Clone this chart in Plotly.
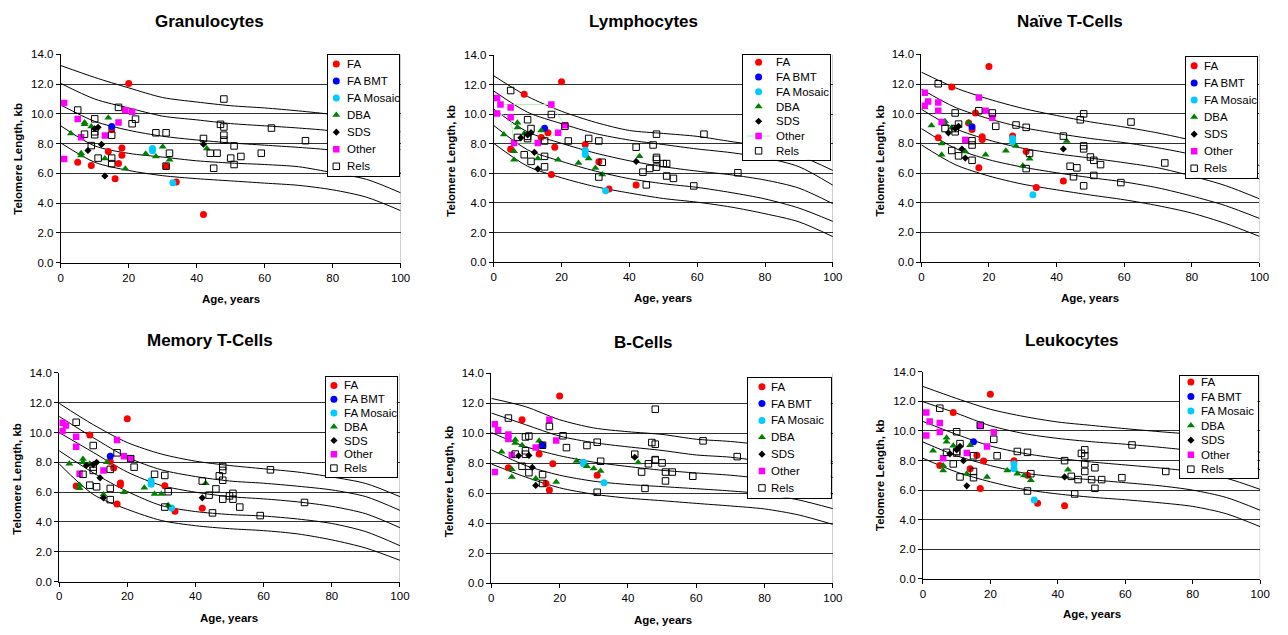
import plotly.graph_objects as go

W, H = 1288, 635
FONT = "Liberation Sans, Arial, sans-serif"

PANELS = ["Granulocytes", "Lymphocytes", "Naïve T-Cells", "Memory T-Cells", "B-Cells", "Leukocytes"]
SERIES_NAMES = ["FA", "FA BMT", "FA Mosaic", "DBA", "SDS", "Other", "Rels"]

# ---------------- ages ----------------
FA_AGES = [5, 9, 14, 15, 16, 17, 18, 18, 20, 27, 31, 34, 42]
BMT_AGES = [15]
MOSAIC_AGES = [27, 27, 33]
DBA_AGES = [3, 6, 6, 7, 7, 9, 13, 14, 19, 25, 28, 30, 32, 43]
SDS_AGES = [8, 10, 11, 12, 13, 42]
OTHER_AGES = [1, 1, 2, 5, 5, 6, 13, 17, 19, 21]
RELS_AGES = [5, 7, 9, 10, 10, 10, 11, 11, 15, 15, 15, 17, 21, 22, 28, 31, 31, 32, 42, 44, 45,
             46, 47, 48, 48, 48, 48, 50, 51, 51, 53, 59, 62, 72]
CURVE_AGES = [0, 10, 20, 30, 40, 50, 60, 70, 80, 90, 100]

# ---------------- telomere length, kb ----------------
GRAN_FA = [6.75, 6.53, 7.47, 8.95, 5.65, 6.66, 7.71, 7.23, 12.05, None, 6.49, 5.43, 3.25]
LYMPH_FA = [7.63, 11.35, 8.43, None, 8.75, 5.93, 7.76, None, 12.2, 7.95, 6.78, 4.95, 5.22]
NAIVE_FA = [8.38, 11.8, 9.37, 8.93, 10.05, 6.35, 8.45, 8.27, 13.18, 8.49, 7.45, 5.03, 5.47]
MEM_FA = [6.42, 9.83, None, 8.05, 7.63, 5.2, 6.62, 6.5, 10.93, None, 6.43, 4.72, 4.93]
BCELL_FA = [7.7, 10.9, 8.61, None, 6.65, 6.21, 7.97, None, 12.48, None, 7.2, None, None]
LEUK_FA = [7.66, 11.24, 7.44, None, 8.35, 6.11, 7.97, None, 12.47, 7.99, 7.0, 5.12, 4.95]

GRAN_BMT = [9.15]
LYMPH_BMT = [9.05]
NAIVE_BMT = [9.12]
MEM_BMT = [8.41]
BCELL_BMT = [9.2]
LEUK_BMT = [9.27]

GRAN_MOS = [7.67, 7.52, 5.38]
LYMPH_MOS = [7.57, 7.28, 4.82]
NAIVE_MOS = [8.33, 8.11, 4.54]
MEM_MOS = [6.76, 6.54, 4.94]
BCELL_MOS = [8.07, 7.96, 6.69]
LEUK_MOS = [7.77, 7.44, 5.34]

GRAN_DBA = [8.68, 7.36, 7.2, 9.43, 9.3, 9.16, 7.01, 9.74, 6.31, 7.32, 7.14, 7.8, 6.92, 7.67]
LYMPH_DBA = [8.63, 7.5, 6.92, 9.42, 9.1, 8.7, 7.0, 8.9, 6.92, 6.7, 7.0, 6.37, 5.93, 7.15]
NAIVE_DBA = [9.2, 8.0, 7.23, 9.5, 9.3, 9.06, 7.45, 9.4, 7.23, 7.5, 7.83, 6.5, 6.97, 8.16]
MEM_DBA = [7.9, 6.48, 6.26, 8.23, 8.0, 7.9, 5.85, 8.0, 5.99, 6.3, 5.88, 5.88, 5.12, 6.6]
BCELL_DBA = [8.77, 7.6, 7.08, 9.56, 9.35, 9.2, 6.98, 9.5, 6.74, 8.15, 7.8, 7.65, 7.48, 8.04]
LEUK_DBA = [8.66, 7.66, 7.33, 9.54, 9.27, 8.99, 7.11, 9.03, 6.89, 7.33, 7.11, 6.98, 6.67, 7.37]

GRAN_SDS = [7.54, 9.0, 9.1, 7.95, 5.83, 7.96]
LYMPH_SDS = [8.4, 8.6, 8.75, 7.42, 6.3, 6.81]
NAIVE_SDS = [8.71, 9.0, 9.15, 7.62, 7.01, 7.62]
MEM_SDS = [7.8, 7.85, 8.01, 6.96, 5.62, 5.62]
BCELL_SDS = [8.5, None, 8.52, 7.72, 6.52, 8.4]
LEUK_SDS = [8.45, 8.72, 8.95, 7.99, 6.29, 6.89]

GRAN_OTHER = [10.73, 6.97, None, 9.65, None, 8.44, 8.55, 9.42, 10.24, 10.14]
LYMPH_OTHER = [11.1, 10.05, 10.65, 10.45, 9.8, 8.05, 8.05, 10.65, 8.75, 9.25]
NAIVE_OTHER = [11.42, 10.54, 10.83, 10.76, 10.2, 9.44, 8.22, 11.09, 10.2, 9.72]
MEM_OTHER = [10.65, 10.1, 10.47, 9.72, 9.05, 7.24, 7.46, 9.5, 8.41, 8.23]
BCELL_OTHER = [10.6, 7.41, 10.22, 9.92, 9.62, 8.55, 9.05, 10.9, 9.52, None]
LEUK_OTHER = [11.24, 9.69, 10.64, 10.53, 9.93, 8.15, 8.5, 10.33, 8.94, 9.91]
LYMPH_OTHER_PATH = [0, 2, 7, 9, 8, 6, 5, 4, 1]   # order of the faint connector in Lymphocytes

GRAN_RELS = [10.26, 8.64, 7.87, 9.67, 8.8, 8.6, 7.03, None, 8.57, 7.03, 6.66, 10.44, 9.34, 9.65,
             8.73, 8.73, 6.49, 7.36, 8.35, 7.36, 6.35, 7.36, 9.3, 11.0, 9.12, 8.57, 8.24, 7.03,
             7.85, 6.6, 7.14, 7.36, 9.05, 8.2]
LYMPH_RELS = [11.6, 8.43, 7.26, 9.63, 8.5, 8.35, 9.03, 6.81, 8.19, 7.15, 6.44, 9.98, 9.18, 8.19,
              8.36, 8.19, 5.75, 6.75, 7.77, 6.08, 5.22, 6.33, 7.92, 8.65, 7.08, 6.95, 6.42, 6.66,
              6.66, 5.82, 5.66, 5.15, 8.65, 6.04]
NAIVE_RELS = [12.02, 9.0, 7.52, 10.05, 9.0, 8.78, 9.3, 7.16, 8.18, 7.89, 6.86, 10.2, 10.05, 9.15,
              9.24, 9.08, 6.3, 7.32, 8.49, 6.46, 5.75, 6.35, 9.59, 9.99, 7.83, 7.63, 5.14, 7.08,
              6.86, 5.84, 6.57, 5.36, 9.44, 6.68]
MEM_RELS = [10.69, 7.2, 6.47, 9.13, 7.46, 7.68, 6.36, None, 7.53, 6.25, 5.5, 8.64, 8.25, 7.68,
            7.2, 7.12, 5.0, 6.03, 6.75, 5.8, 4.61, 6.22, 7.1, 7.72, 7.46, 6.8, 5.53, 5.75,
            5.92, 5.53, 5.0, 4.43, 7.5, 5.31]
BCELL_RELS = [11.01, 8.61, 7.8, 9.75, 8.83, 8.6, 9.81, 7.37, 9.2, 7.24, 6.65, 10.45, 9.83, 9.04,
              9.18, 9.4, 6.06, 8.13, 8.6, 7.41, 6.32, 7.96, 9.38, 11.6, 9.27, 8.24, 8.2, 8.02,
              7.41, 6.82, 7.41, 7.13, 9.49, 8.44]
LEUK_RELS = [11.53, 8.55, 7.77, 9.94, 8.61, 8.5, 9.14, 6.89, 8.32, 7.26, 6.84, 10.38, 9.43, 8.32,
             8.61, 8.55, 5.94, 7.11, 7.99, 6.93, 5.74, 6.71, 8.48, 8.72, 8.32, 7.77, 7.26, 6.71,
             7.51, 6.12, 6.71, 6.84, 9.05, 7.26]

# ---------------- percentile curves (values at CURVE_AGES) ----------------
GRAN_CURVES = [
    [13.25, 12.45, 11.75, 11.1, 10.8, 10.55, 10.4, 10.2, 9.95, 9.5, 8.8],
    [12.05, 11.0, 10.4, 9.85, 9.6, 9.35, 9.2, 9.05, 8.85, 8.4, 7.6],
    [10.6, 9.5, 8.9, 8.5, 8.25, 8.05, 7.9, 7.75, 7.55, 7.05, 6.05],
    [9.2, 7.85, 7.35, 7.1, 6.85, 6.7, 6.6, 6.45, 6.05, 5.6, 4.7],
    [8.05, 6.75, 6.2, 5.85, 5.65, 5.5, 5.35, 5.2, 4.9, 4.4, 3.5],
]
LYMPH_CURVES = [
    [12.6, 11.2, 10.2, 9.45, 8.9, 8.7, 8.5, 8.15, 7.8, 7.2, 6.2],
    [11.57, 10.13, 9.36, 8.69, 8.25, 7.95, 7.65, 7.4, 7.05, 6.45, 5.2],
    [10.35, 8.8, 8.03, 7.37, 6.85, 6.45, 6.15, 5.9, 5.55, 5.0, 3.95],
    [9.24, 7.59, 6.81, 6.15, 5.64, 5.3, 5.05, 4.7, 4.27, 3.65, 2.75],
    [8.03, 6.48, 5.7, 5.1, 4.67, 4.3, 4.05, 3.72, 3.27, 2.72, 1.72],
]
NAIVE_CURVES = [
    [12.8, 11.75, 10.98, 10.36, 9.88, 9.45, 9.1, 8.7, 8.2, 7.5, 6.5],
    [11.65, 10.43, 9.66, 9.07, 8.67, 8.33, 8.05, 7.7, 7.25, 6.6, 5.6],
    [10.3, 9.0, 8.22, 7.67, 7.3, 7.01, 6.7, 6.35, 5.8, 5.15, 4.26],
    [9.0, 7.67, 6.9, 6.4, 6.02, 5.69, 5.4, 5.0, 4.45, 3.8, 2.94],
    [7.9, 6.57, 5.8, 5.25, 4.87, 4.52, 4.2, 3.8, 3.3, 2.6, 1.73],
]
MEM_CURVES = [
    [11.96, 10.53, 9.33, 8.56, 8.08, 7.79, 7.57, 7.35, 7.02, 6.58, 5.7],
    [11.08, 9.66, 8.34, 7.5, 7.05, 6.75, 6.6, 6.4, 6.15, 5.7, 4.78],
    [10.0, 8.67, 7.35, 6.45, 6.0, 5.7, 5.55, 5.35, 5.05, 4.55, 3.62],
    [8.78, 7.3, 6.05, 5.1, 4.7, 4.5, 4.4, 4.2, 3.9, 3.35, 2.41],
    [7.9, 5.85, 4.85, 4.1, 3.75, 3.55, 3.42, 3.2, 2.8, 2.25, 1.43],
]
BCELL_CURVES = [
    [12.32, 11.77, 10.9, 10.35, 10.1, 9.92, 9.6, 9.45, 9.2, 8.8, 8.1],
    [11.35, 10.57, 9.81, 9.37, 9.09, 8.85, 8.55, 8.4, 8.1, 7.7, 7.05],
    [10.05, 9.11, 8.5, 8.07, 7.78, 7.53, 7.35, 7.2, 6.95, 6.55, 5.95],
    [8.9, 7.85, 7.2, 6.8, 6.58, 6.44, 6.3, 6.15, 5.95, 5.55, 4.97],
    [7.95, 7.08, 6.36, 5.93, 5.67, 5.5, 5.32, 5.15, 4.95, 4.55, 3.92],
]
LEUK_CURVES = [
    [13.0, 12.19, 11.46, 10.97, 10.6, 10.37, 10.15, 9.95, 9.75, 9.35, 8.55],
    [11.97, 11.19, 10.35, 9.82, 9.49, 9.27, 9.1, 8.9, 8.65, 8.2, 7.37],
    [10.64, 9.76, 8.98, 8.48, 8.15, 7.9, 7.7, 7.5, 7.25, 6.8, 6.05],
    [9.25, 8.32, 7.66, 7.15, 6.89, 6.7, 6.5, 6.3, 6.0, 5.5, 4.64],
    [8.15, 7.22, 6.56, 6.05, 5.74, 5.52, 5.35, 5.15, 4.9, 4.4, 3.53],
]

Y_TICKS = [0, 2, 4, 6, 8, 10, 12, 14]
X_TICKS = [0, 20, 40, 60, 80, 100]

PANEL_DATA = [
    (GRAN_FA, GRAN_BMT, GRAN_MOS, GRAN_DBA, GRAN_SDS, GRAN_OTHER, GRAN_RELS, GRAN_CURVES),
    (LYMPH_FA, LYMPH_BMT, LYMPH_MOS, LYMPH_DBA, LYMPH_SDS, LYMPH_OTHER, LYMPH_RELS, LYMPH_CURVES),
    (NAIVE_FA, NAIVE_BMT, NAIVE_MOS, NAIVE_DBA, NAIVE_SDS, NAIVE_OTHER, NAIVE_RELS, NAIVE_CURVES),
    (MEM_FA, MEM_BMT, MEM_MOS, MEM_DBA, MEM_SDS, MEM_OTHER, MEM_RELS, MEM_CURVES),
    (BCELL_FA, BCELL_BMT, BCELL_MOS, BCELL_DBA, BCELL_SDS, BCELL_OTHER, BCELL_RELS, BCELL_CURVES),
    (LEUK_FA, LEUK_BMT, LEUK_MOS, LEUK_DBA, LEUK_SDS, LEUK_OTHER, LEUK_RELS, LEUK_CURVES),
]
SERIES_AGES = [FA_AGES, BMT_AGES, MOSAIC_AGES, DBA_AGES, SDS_AGES, OTHER_AGES, RELS_AGES]

# ---------------- layout (pixels) ----------------
PLOT_BOX = [(58.3, 49.3, 401.7, 261.7), (495.7, 50.0, 838.3, 261.0), (927.7, 49.3, 1269.3, 261.0),
            (56.7, 374.0, 401.0, 586.7), (493.3, 374.3, 838.3, 588.3), (929.3, 372.7, 1270.0, 584.0)]
TITLE_POS = [(209, 16), (646.7, 16), (1078.3, 16.3), (209, 340.7), (646.7, 343), (1080, 340.7)]
XTITLE_POS = [(230, 299), (666.7, 297.7), (1098.3, 297.7), (228.3, 624), (666.7, 626), (1100, 620)]
YTITLE_POS = [(15, 155.8), (451.7, 157.5), (885, 157.5), (13.3, 481.7), (450, 484), (886.7, 478.3)]
LEGEND_BOX = [(328, 50, 400, 173), (747.3, 50, 835.7, 156.7), (1195, 51.7, 1266.7, 175),
              (326, 378.3, 397.7, 480), (752.3, 379.3, 836, 501), (1189, 376.7, 1267.3, 481)]
LEGEND_ROWS = [(59, 17.4, 336.7, 345), (57.3, 15.05, 763.3, 779), (61, 17.4, 1203.3, 1211.7),
               (386.7, 14.05, 334.3, 342.3), (388, 17.2, 766.7, 774.3), (383.3, 14.8, 1200, 1208.3)]

STYLES = [
    dict(symbol="circle", size=7, color="#FF0000", line=dict(width=0)),
    dict(symbol="circle", size=7, color="#0000FF", line=dict(width=0)),
    dict(symbol="circle", size=7, color="#00CCFF", line=dict(width=0)),
    dict(symbol="triangle-up", size=7, color="#008000", line=dict(width=0)),
    dict(symbol="diamond", size=5.5, color="#000000", line=dict(width=0)),
    dict(symbol="square", size=6.5, color="#FF00FF", line=dict(width=0)),
    dict(symbol="square-open", size=6.5, color="#000000", line=dict(width=1, color="#000000")),
]
CONNECTOR_COLOR = "#b5ebb5"


def ax_id(n):
    return "" if n == 1 else str(n)


fig = go.Figure()
annotations = []
shapes = []
layout_axes = {}

for i, name in enumerate(PANELS):
    n = i + 1
    xa, ya = "x" + ax_id(n), "y" + ax_id(n)
    data = PANEL_DATA[i]
    curves = data[7]
    for c in curves:
        fig.add_trace(go.Scatter(x=CURVE_AGES, y=c, mode="lines", xaxis=xa, yaxis=ya,
                                 line=dict(color="black", width=1, shape="spline", smoothing=0.8),
                                 hoverinfo="skip", showlegend=False))
    for s in range(7):
        if name == "Lymphocytes" and s == 5:
            fig.add_trace(go.Scatter(
                x=[OTHER_AGES[k] for k in LYMPH_OTHER_PATH],
                y=[LYMPH_OTHER[k] for k in LYMPH_OTHER_PATH],
                mode="lines", xaxis=xa, yaxis=ya, line=dict(color=CONNECTOR_COLOR, width=1),
                hoverinfo="skip", showlegend=False))
        fig.add_trace(go.Scatter(x=SERIES_AGES[s], y=data[s], mode="markers", name=SERIES_NAMES[s],
                                 xaxis=xa, yaxis=ya, marker=STYLES[s], showlegend=False))

    x0, y0, x1, y1 = PLOT_BOX[i]
    layout_axes["xaxis" + ax_id(n)] = dict(
        domain=[x0 / W, x1 / W], range=[0, 100], anchor=ya, tickvals=X_TICKS,
        showgrid=False, zeroline=False, showline=True, linecolor="black", linewidth=1,
        ticks="outside", ticklen=4, tickcolor="black",
        tickfont=dict(family=FONT, size=11.5, color="black"), fixedrange=True)
    layout_axes["yaxis" + ax_id(n)] = dict(
        domain=[1 - y1 / H, 1 - y0 / H], range=[0, 14], anchor=xa, tickvals=Y_TICKS,
        tickformat=".1f", showgrid=True, gridcolor="#303030", gridwidth=1, zeroline=False,
        showline=True, linecolor="black", linewidth=1, ticks="outside", ticklen=4,
        tickcolor="black", tickfont=dict(family=FONT, size=11.5, color="black"), fixedrange=True)
    shapes.append(dict(type="line", xref=xa, yref=ya, x0=100, x1=100, y0=0, y1=14,
                       line=dict(color="#a8a8a8", width=1), layer="below"))

    tx, ty = TITLE_POS[i]
    annotations.append(dict(text="<b>" + name + "</b>", x=tx / W, y=1 - ty / H, xref="paper",
                            yref="paper", xanchor="center", yanchor="middle", showarrow=False,
                            font=dict(family=FONT, size=17, color="black")))
    tx, ty = XTITLE_POS[i]
    annotations.append(dict(text="<b>Age, years</b>", x=tx / W, y=1 - ty / H, xref="paper",
                            yref="paper", xanchor="center", yanchor="middle", showarrow=False,
                            font=dict(family=FONT, size=11.5, color="black")))
    tx, ty = YTITLE_POS[i]
    annotations.append(dict(text="<b>Telomere Length, kb</b>", x=tx / W, y=1 - ty / H,
                            xref="paper", yref="paper", xanchor="center", yanchor="middle",
                            textangle=-90, showarrow=False,
                            font=dict(family=FONT, size=11.5, color="black")))

    # legend box as an overlapping subplot (pixel-unit axes)
    m = n + 6
    lxa, lya = "x" + str(m), "y" + str(m)
    bx0, by0, bx1, by1 = LEGEND_BOX[i]
    first, step, mx, txl = LEGEND_ROWS[i]
    rows = [first + k * step for k in range(7)]
    layout_axes["xaxis" + str(m)] = dict(
        domain=[bx0 / W, bx1 / W], range=[bx0, bx1], anchor=lya, showgrid=False, zeroline=False,
        showticklabels=False, ticks="", showline=True, mirror=True, linecolor="black",
        linewidth=1, fixedrange=True)
    layout_axes["yaxis" + str(m)] = dict(
        domain=[1 - by1 / H, 1 - by0 / H], range=[by1, by0], anchor=lxa, showgrid=False,
        zeroline=False, showticklabels=False, ticks="", showline=True, mirror=True,
        linecolor="black", linewidth=1, fixedrange=True)
    shapes.append(dict(type="rect", xref=lxa, yref=lya, x0=bx0, x1=bx1, y0=by0, y1=by1,
                       fillcolor="white", line=dict(width=0), layer="below"))
    if name == "Lymphocytes":
        fig.add_trace(go.Scatter(x=[mx - 12, mx + 12], y=[rows[5], rows[5]], mode="lines",
                                 xaxis=lxa, yaxis=lya, line=dict(color=CONNECTOR_COLOR, width=1),
                                 hoverinfo="skip", showlegend=False))
    for s in range(7):
        fig.add_trace(go.Scatter(x=[mx], y=[rows[s]], mode="markers", xaxis=lxa, yaxis=lya,
                                 marker=STYLES[s], hoverinfo="skip", showlegend=False))
        annotations.append(dict(text=SERIES_NAMES[s], x=txl, y=rows[s], xref=lxa, yref=lya,
                                xanchor="left", yanchor="middle", showarrow=False,
                                font=dict(family=FONT, size=11.5, color="black")))

fig.update_layout(
    width=W, height=H, autosize=False, margin=dict(l=0, r=0, t=0, b=0),
    paper_bgcolor="#ffffff", plot_bgcolor="rgb(255,255,255)", showlegend=False,
    annotations=annotations, shapes=shapes, font=dict(family=FONT, color="black"),
    **layout_axes)

# the page's default 8px body margin would offset the figure inside the 1288x635 window
fig.write_html("out.html", config={"displayModeBar": False},
               post_script="document.body.style.margin='0px';document.body.style.overflow='hidden';")
